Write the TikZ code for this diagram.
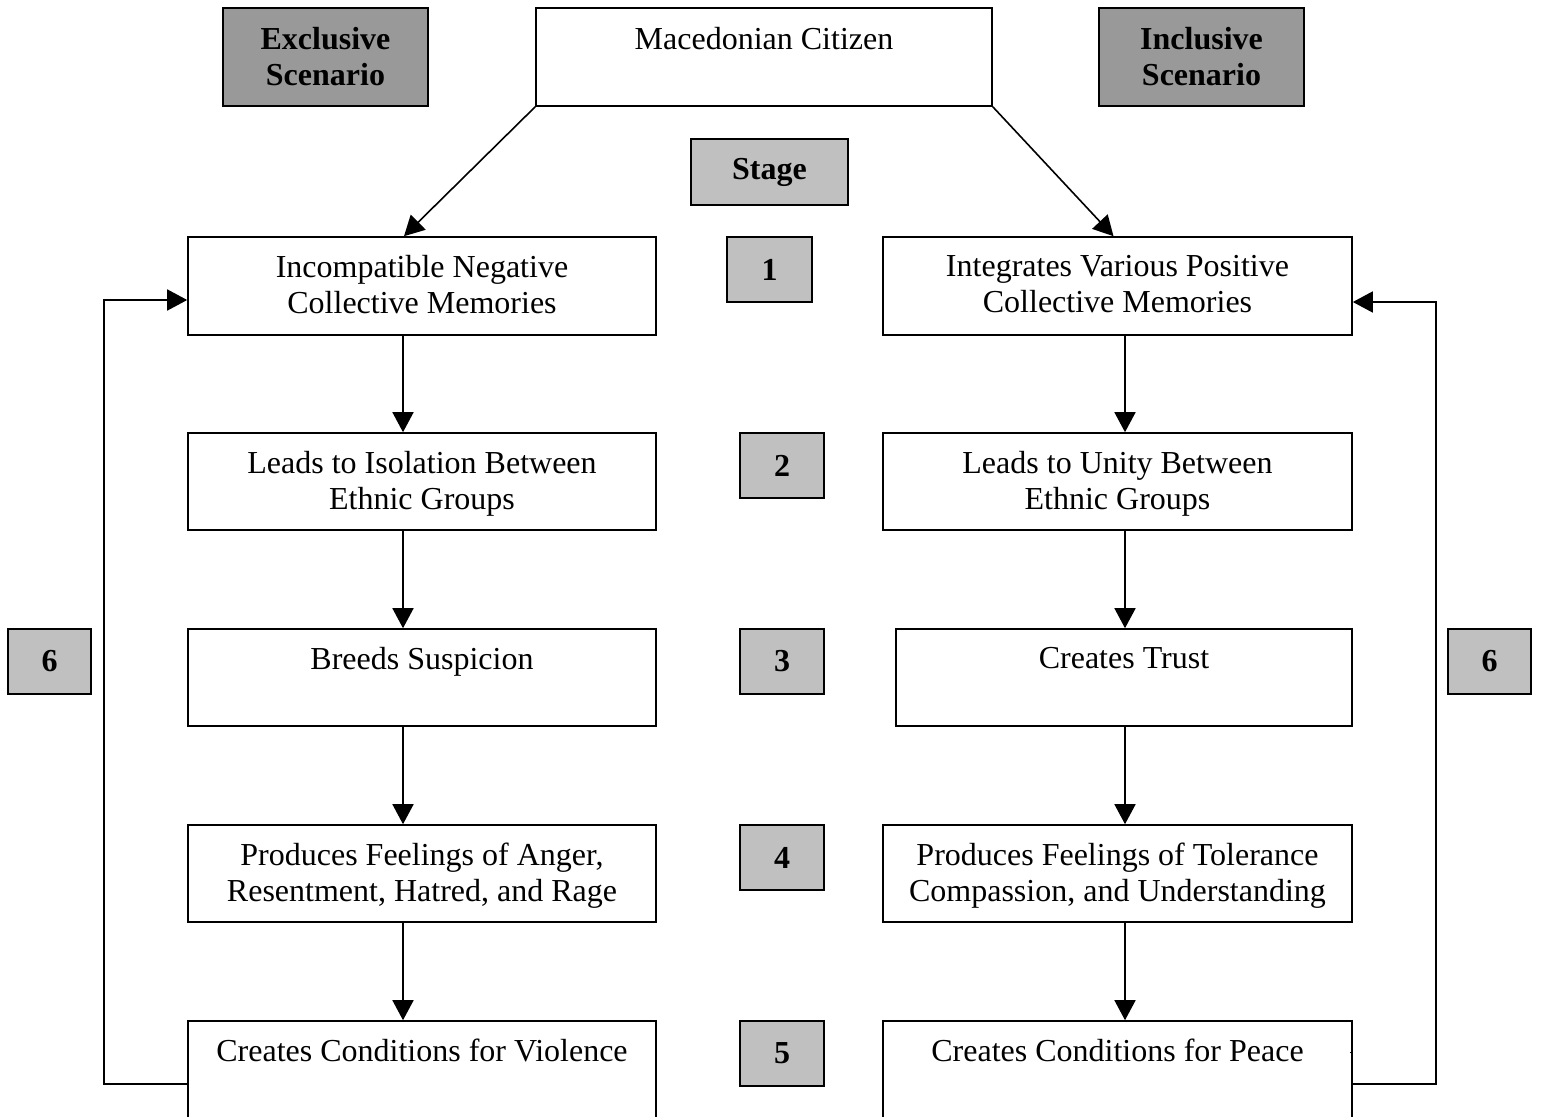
\documentclass[tikz,border=0pt]{standalone}
\usepackage{fontspec}
\setmainfont{Liberation Serif}
\usetikzlibrary{arrows.meta}
\tikzset{
  box/.style={draw=black, line width=1.6pt, fill=white, rectangle, inner sep=0pt},
  darkbox/.style={box, fill=darkgr},
  lightbox/.style={box, fill=lightgr},
  txt/.style={font=\fontsize{32}{36}\selectfont, align=center, inner sep=0pt, anchor=north},
  btxt/.style={font=\fontsize{32}{36}\selectfont\bfseries, align=center, inner sep=0pt},
  arr/.style={draw=black, line width=1.6pt, -{Triangle[length=20pt,width=21pt]}},
}
\definecolor{darkgr}{HTML}{999999}
\definecolor{lightgr}{HTML}{C0C0C0}
\begin{document}
\begin{tikzpicture}[x=1pt,y=-1pt]
\useasboundingbox (0,0) rectangle (1541,1116);
\clip (0,0) rectangle (1541,1116);
% top row
\node[darkbox, minimum width=205pt, minimum height=98pt] (excl) at (325.5,57) {};
\node[btxt] (exclt) at (excl.center) {Exclusive\\Scenario};
\node[box, minimum width=456pt, minimum height=98pt] (mac) at (764,57) {};
\node[txt] (mact) at ([yshift=-20pt]mac.north) {Macedonian Citizen};
\node[darkbox, minimum width=205pt, minimum height=98pt] (incl) at (1201.5,57) {};
\node[btxt] (inclt) at (incl.center) {Inclusive\\Scenario};
\node[lightbox, minimum width=157pt, minimum height=66pt, btxt] (stage) at (769.5,172) {Stage};
% stage numbers
\node[lightbox, minimum width=85pt, minimum height=65pt, btxt] (n1) at (769.5,269.5) {1};
\node[lightbox, minimum width=84pt, minimum height=65pt, btxt] (n2) at (782,465.5) {2};
\node[lightbox, minimum width=84pt, minimum height=65pt, btxt] (n3) at (782,661.5) {3};
\node[lightbox, minimum width=84pt, minimum height=65pt, btxt] (n4) at (782,857.5) {4};
\node[lightbox, minimum width=84pt, minimum height=65pt, btxt] (n5) at (782,1053.5) {5};
\node[lightbox, minimum width=83pt, minimum height=65pt, btxt] (s6l) at (49.5,661.5) {6};
\node[lightbox, minimum width=83pt, minimum height=65pt, btxt] (s6r) at (1489.5,661.5) {6};
% left column
\node[box, minimum width=468pt, minimum height=98pt] (L1) at (422,286) {};
\node[txt] at ([yshift=-19pt]L1.north) {Incompatible Negative\\Collective Memories};
\node[box, minimum width=468pt, minimum height=97pt] (L2) at (422,481.5) {};
\node[txt] at ([yshift=-19pt]L2.north) {Leads to Isolation Between\\Ethnic Groups};
\node[box, minimum width=468pt, minimum height=97pt] (L3) at (422,677.5) {};
\node[txt] at ([yshift=-19pt]L3.north) {Breeds Suspicion};
\node[box, minimum width=468pt, minimum height=97pt] (L4) at (422,873.5) {};
\node[txt] at ([yshift=-19pt]L4.north) {Produces Feelings of Anger,\\Resentment, Hatred, and Rage};
\node[box, minimum width=468pt, minimum height=200pt] (L5) at (422,1121) {};
\node[txt] at ([yshift=-19pt]L5.north) {Creates Conditions for Violence};
% right column
\node[box, minimum width=469pt, minimum height=98pt] (R1) at (1117.5,286) {};
\node[txt] at ([yshift=-19pt]R1.north) {Integrates Various Positive\\Collective Memories};
\node[box, minimum width=469pt, minimum height=97pt] (R2) at (1117.5,481.5) {};
\node[txt] at ([yshift=-19pt]R2.north) {Leads to Unity Between\\Ethnic Groups};
\node[box, minimum width=456pt, minimum height=97pt] (R3) at (1124,677.5) {};
\node[txt] at ([yshift=-19pt]R3.north) {Creates Trust};
\node[box, minimum width=469pt, minimum height=97pt] (R4) at (1117.5,873.5) {};
\node[txt] at ([yshift=-19pt]R4.north) {Produces Feelings of Tolerance\\Compassion, and Understanding};
\node[box, minimum width=469pt, minimum height=200pt] (R5) at (1117.5,1121) {};
\node[txt] at ([yshift=-19pt]R5.north) {Creates Conditions for Peace};
% connectors
\draw[arr] (mac.south west) -- ([xshift=-18pt]L1.north);
\draw[arr] (mac.south east) -- ([xshift=-4pt]R1.north);
\foreach \a/\b in {L1/L2,L2/L3,L3/L4,L4/L5}
  \draw[arr] ([xshift=-19pt]\a.south) -- ([xshift=-19pt]\b.north);
\draw[arr] ([xshift=7.5pt]R1.south) -- ([xshift=7.5pt]R2.north);
\draw[arr] ([xshift=7.5pt]R2.south) -- ([xshift=1pt]R3.north);
\draw[arr] ([xshift=1pt]R3.south) -- ([xshift=7.5pt]R4.north);
\draw[arr] ([xshift=7.5pt]R4.south) -- ([xshift=7.5pt]R5.north);
\coordinate (loopL) at (104,300);
\coordinate (loopR) at (1436,302);
\draw[arr] ([yshift=-64pt]L5.north west) -| (loopL) -- (L1.west |- loopL);
\draw[arr] ([yshift=-64pt]R5.north east) -| (loopR) -- (R1.east |- loopR);
\draw[line width=1.2pt] ([yshift=-32pt]R5.north east) -- ++(-3,0);
\end{tikzpicture}
\end{document}
